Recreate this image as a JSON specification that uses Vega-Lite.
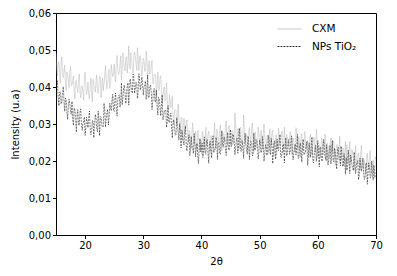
{
"$schema": "https://vega.github.io/schema/vega-lite/v6.json",
"width": 320, "height": 222,
"autosize": {"type": "none"},
"padding": {"left": 56, "top": 13, "right": 21, "bottom": 41},
"background": "white",
"config": {
  "font": "DejaVu Sans",
  "view": {"stroke": "black", "strokeWidth": 1},
  "axis": {"grid": false, "labelFontSize": 10, "titleFontSize": 10, "titleFontWeight": "normal", "labelColor": "black", "titleColor": "black", "domainColor": "black", "tickColor": "black", "tickSize": 3.5, "labelPadding": 2, "labelFont": "DejaVu Sans", "titleFont": "DejaVu Sans"},
  "legend": {"labelFont": "DejaVu Sans", "labelFontSize": 10.5, "labelColor": "black"}
},
"data": {"values": [
{"t":15,"c":0.0491,"n":0.0374},{"t":15.25,"c":0.0431,"n":0.0417},{"t":15.5,"c":0.0468,"n":0.0349},{"t":15.75,"c":0.0410,"n":0.0388},
{"t":16,"c":0.0482,"n":0.0360},{"t":16.25,"c":0.0425,"n":0.0401},{"t":16.5,"c":0.0459,"n":0.0334},{"t":16.75,"c":0.0390,"n":0.0363},
{"t":17,"c":0.0432,"n":0.0312},{"t":17.25,"c":0.0399,"n":0.0367},{"t":17.5,"c":0.0456,"n":0.0332},{"t":17.75,"c":0.0405,"n":0.0361},
{"t":18,"c":0.0430,"n":0.0296},{"t":18.25,"c":0.0367,"n":0.0338},{"t":18.5,"c":0.0418,"n":0.0278},{"t":18.75,"c":0.0385,"n":0.0339},
{"t":19,"c":0.0435,"n":0.0296},{"t":19.25,"c":0.0370,"n":0.0341},{"t":19.5,"c":0.0402,"n":0.0283},{"t":19.75,"c":0.0364,"n":0.0308},
{"t":20,"c":0.0440,"n":0.0269},{"t":20.25,"c":0.0380,"n":0.0318},{"t":20.5,"c":0.0414,"n":0.0290},{"t":20.75,"c":0.0368,"n":0.0335},
{"t":21,"c":0.0424,"n":0.0271},{"t":21.25,"c":0.0360,"n":0.0310},{"t":21.5,"c":0.0407,"n":0.0263},{"t":21.75,"c":0.0386,"n":0.0326},
{"t":22,"c":0.0433,"n":0.0288},{"t":22.25,"c":0.0383,"n":0.0335},{"t":22.5,"c":0.0429,"n":0.0268},{"t":22.75,"c":0.0370,"n":0.0318},
{"t":23,"c":0.0426,"n":0.0291},{"t":23.25,"c":0.0409,"n":0.0356},{"t":23.5,"c":0.0458,"n":0.0292},{"t":23.75,"c":0.0395,"n":0.0331},
{"t":24,"c":0.0436,"n":0.0297},{"t":24.25,"c":0.0396,"n":0.0356},{"t":24.5,"c":0.0461,"n":0.0336},{"t":24.75,"c":0.0428,"n":0.0380},
{"t":25,"c":0.0462,"n":0.0334},{"t":25.25,"c":0.0414,"n":0.0384},{"t":25.5,"c":0.0485,"n":0.0321},{"t":25.75,"c":0.0434,"n":0.0376},
{"t":26,"c":0.0461,"n":0.0345},{"t":26.25,"c":0.0418,"n":0.0411},{"t":26.5,"c":0.0492,"n":0.0371},{"t":26.75,"c":0.0451,"n":0.0405},
{"t":27,"c":0.0480,"n":0.0355},{"t":27.25,"c":0.0438,"n":0.0404},{"t":27.5,"c":0.0511,"n":0.0351},{"t":27.75,"c":0.0448,"n":0.0422},
{"t":28,"c":0.0473,"n":0.0389},{"t":28.25,"c":0.0436,"n":0.0435},{"t":28.5,"c":0.0495,"n":0.0383},{"t":28.75,"c":0.0460,"n":0.0413},
{"t":29,"c":0.0506,"n":0.0369},{"t":29.25,"c":0.0444,"n":0.0436},{"t":29.5,"c":0.0485,"n":0.0392},{"t":29.75,"c":0.0429,"n":0.0427},
{"t":30,"c":0.0477,"n":0.0378},{"t":30.25,"c":0.0442,"n":0.0405},{"t":30.5,"c":0.0497,"n":0.0366},{"t":30.75,"c":0.0423,"n":0.0432},
{"t":31,"c":0.0471,"n":0.0372},{"t":31.25,"c":0.0438,"n":0.0405},{"t":31.5,"c":0.0472,"n":0.0339},{"t":31.75,"c":0.0408,"n":0.0388},
{"t":32,"c":0.0433,"n":0.0361},{"t":32.25,"c":0.0377,"n":0.0392},{"t":32.5,"c":0.0440,"n":0.0324},{"t":32.75,"c":0.0392,"n":0.0369},
{"t":33,"c":0.0430,"n":0.0322},{"t":33.25,"c":0.0357,"n":0.0379},{"t":33.5,"c":0.0395,"n":0.0318},{"t":33.75,"c":0.0362,"n":0.0333},
{"t":34,"c":0.0411,"n":0.0291},{"t":34.25,"c":0.0336,"n":0.0350},{"t":34.5,"c":0.0378,"n":0.0304},{"t":34.75,"c":0.0344,"n":0.0330},
{"t":35,"c":0.0375,"n":0.0262},{"t":35.25,"c":0.0300,"n":0.0311},{"t":35.5,"c":0.0339,"n":0.0269},{"t":35.75,"c":0.0298,"n":0.0317},
{"t":36,"c":0.0354,"n":0.0277},{"t":36.25,"c":0.0293,"n":0.0301},{"t":36.5,"c":0.0318,"n":0.0235},{"t":36.75,"c":0.0256,"n":0.0275},
{"t":37,"c":0.0316,"n":0.0243},{"t":37.25,"c":0.0278,"n":0.0295},{"t":37.5,"c":0.0311,"n":0.0227},{"t":37.75,"c":0.0251,"n":0.0261},
{"t":38,"c":0.0279,"n":0.0214},{"t":38.25,"c":0.0233,"n":0.0266},{"t":38.5,"c":0.0303,"n":0.0232},{"t":38.75,"c":0.0245,"n":0.0274},
{"t":39,"c":0.0280,"n":0.0211},{"t":39.25,"c":0.0230,"n":0.0248},{"t":39.5,"c":0.0263,"n":0.0193},{"t":39.75,"c":0.0226,"n":0.0261},
{"t":40,"c":0.0218,"n":0.0235},{"t":40.25,"c":0.0272,"n":0.0209},{"t":40.5,"c":0.0230,"n":0.0265},{"t":40.75,"c":0.0291,"n":0.0218},
{"t":41,"c":0.0245,"n":0.0258},{"t":41.25,"c":0.0281,"n":0.0194},{"t":41.5,"c":0.0224,"n":0.0253},{"t":41.75,"c":0.0262,"n":0.0208},
{"t":42,"c":0.0239,"n":0.0268},{"t":42.25,"c":0.0304,"n":0.0233},{"t":42.5,"c":0.0235,"n":0.0264},{"t":42.75,"c":0.0279,"n":0.0204},
{"t":43,"c":0.0253,"n":0.0251},{"t":43.25,"c":0.0298,"n":0.0218},{"t":43.5,"c":0.0228,"n":0.0282},{"t":43.75,"c":0.0275,"n":0.0237},
{"t":44,"c":0.0253,"n":0.0260},{"t":44.25,"c":0.0308,"n":0.0215},{"t":44.5,"c":0.0243,"n":0.0277},{"t":44.75,"c":0.0296,"n":0.0229},
{"t":45,"c":0.0243,"n":0.0285},{"t":45.25,"c":0.0279,"n":0.0246},{"t":45.5,"c":0.0246,"n":0.0271},{"t":45.75,"c":0.0330,"n":0.0217},
{"t":46,"c":0.0257,"n":0.0256},{"t":46.25,"c":0.0287,"n":0.0221},{"t":46.5,"c":0.0232,"n":0.0289},{"t":46.75,"c":0.0291,"n":0.0227},
{"t":47,"c":0.0261,"n":0.0255},{"t":47.25,"c":0.0325,"n":0.0207},{"t":47.5,"c":0.0246,"n":0.0275},{"t":47.75,"c":0.0273,"n":0.0229},
{"t":48,"c":0.0226,"n":0.0267},{"t":48.25,"c":0.0290,"n":0.0204},{"t":48.5,"c":0.0252,"n":0.0253},{"t":48.75,"c":0.0303,"n":0.0214},
{"t":49,"c":0.0225,"n":0.0276},{"t":49.25,"c":0.0278,"n":0.0229},{"t":49.5,"c":0.0236,"n":0.0255},{"t":49.75,"c":0.0291,"n":0.0205},
{"t":50,"c":0.0256,"n":0.0257},{"t":50.25,"c":0.0283,"n":0.0222},{"t":50.5,"c":0.0232,"n":0.0266},{"t":50.75,"c":0.0300,"n":0.0199},
{"t":51,"c":0.0242,"n":0.0244},{"t":51.25,"c":0.0268,"n":0.0215},{"t":51.5,"c":0.0221,"n":0.0269},{"t":51.75,"c":0.0287,"n":0.0224},
{"t":52,"c":0.0242,"n":0.0261},{"t":52.25,"c":0.0283,"n":0.0193},{"t":52.5,"c":0.0214,"n":0.0250},{"t":52.75,"c":0.0263,"n":0.0205},
{"t":53,"c":0.0232,"n":0.0259},{"t":53.25,"c":0.0289,"n":0.0228},{"t":53.5,"c":0.0248,"n":0.0272},{"t":53.75,"c":0.0275,"n":0.0210},
{"t":54,"c":0.0222,"n":0.0245},{"t":54.25,"c":0.0292,"n":0.0195},{"t":54.5,"c":0.0234,"n":0.0263},{"t":54.75,"c":0.0264,"n":0.0217},
{"t":55,"c":0.0244,"n":0.0258},{"t":55.25,"c":0.0280,"n":0.0227},{"t":55.5,"c":0.0218,"n":0.0268},{"t":55.75,"c":0.0262,"n":0.0203},
{"t":56,"c":0.0224,"n":0.0239},{"t":56.25,"c":0.0290,"n":0.0217},{"t":56.5,"c":0.0244,"n":0.0272},{"t":56.75,"c":0.0265,"n":0.0208},
{"t":57,"c":0.0210,"n":0.0249},{"t":57.25,"c":0.0272,"n":0.0197},{"t":57.5,"c":0.0227,"n":0.0259},{"t":57.75,"c":0.0280,"n":0.0221},
{"t":58,"c":0.0233,"n":0.0243},{"t":58.25,"c":0.0254,"n":0.0188},{"t":58.5,"c":0.0209,"n":0.0249},{"t":58.75,"c":0.0273,"n":0.0210},
{"t":59,"c":0.0216,"n":0.0265},{"t":59.25,"c":0.0261,"n":0.0195},{"t":59.5,"c":0.0227,"n":0.0230},{"t":59.75,"c":0.0286,"n":0.0199},
{"t":60,"c":0.0210,"n":0.0255},{"t":60.25,"c":0.0244,"n":0.0184},{"t":60.5,"c":0.0209,"n":0.0238},{"t":60.75,"c":0.0257,"n":0.0199},
{"t":61,"c":0.0218,"n":0.0258},{"t":61.25,"c":0.0273,"n":0.0213},{"t":61.5,"c":0.0199,"n":0.0244},{"t":61.75,"c":0.0242,"n":0.0189},
{"t":62,"c":0.0208,"n":0.0231},{"t":62.25,"c":0.0262,"n":0.0192},{"t":62.5,"c":0.0223,"n":0.0256},{"t":62.75,"c":0.0254,"n":0.0198},
{"t":63,"c":0.0188,"n":0.0224},{"t":63.25,"c":0.0244,"n":0.0178},{"t":63.5,"c":0.0213,"n":0.0237},{"t":63.75,"c":0.0267,"n":0.0207},
{"t":64,"c":0.0202,"n":0.0240},{"t":64.25,"c":0.0235,"n":0.0185},{"t":64.5,"c":0.0186,"n":0.0220},{"t":64.75,"c":0.0253,"n":0.0164},
{"t":65,"c":0.0244,"n":0.0175},{"t":65.25,"c":0.0193,"n":0.0229},{"t":65.5,"c":0.0253,"n":0.0166},{"t":65.75,"c":0.0197,"n":0.0208},
{"t":66,"c":0.0219,"n":0.0179},{"t":66.25,"c":0.0175,"n":0.0224},{"t":66.5,"c":0.0242,"n":0.0166},{"t":66.75,"c":0.0194,"n":0.0196},
{"t":67,"c":0.0222,"n":0.0149},{"t":67.25,"c":0.0176,"n":0.0208},{"t":67.5,"c":0.0242,"n":0.0172},{"t":67.75,"c":0.0180,"n":0.0208},
{"t":68,"c":0.0203,"n":0.0150},{"t":68.25,"c":0.0166,"n":0.0195},{"t":68.5,"c":0.0221,"n":0.0137},{"t":68.75,"c":0.0180,"n":0.0195},
{"t":69,"c":0.0229,"n":0.0155},{"t":69.25,"c":0.0166,"n":0.0200},{"t":69.5,"c":0.0203,"n":0.0148},{"t":69.75,"c":0.0153,"n":0.0175},
{"t":70,"c":0.0205,"n":0.0153},
{"t":15.125,"c":0.0450,"n":0.0402},{"t":15.375,"c":0.0465,"n":0.0372},{"t":15.625,"c":0.0433,"n":0.0386},{"t":15.875,"c":0.0463,"n":0.0354},
{"t":16.125,"c":0.0433,"n":0.0385},{"t":16.375,"c":0.0444,"n":0.0359},{"t":16.625,"c":0.0413,"n":0.0370},{"t":16.875,"c":0.0441,"n":0.0331},
{"t":17.125,"c":0.0420,"n":0.0350},{"t":17.375,"c":0.0442,"n":0.0356},{"t":17.625,"c":0.0404,"n":0.0326},{"t":17.875,"c":0.0418,"n":0.0312},
{"t":18.125,"c":0.0389,"n":0.0343},{"t":18.375,"c":0.0417,"n":0.0314},{"t":18.625,"c":0.0397,"n":0.0327},{"t":18.875,"c":0.0419,"n":0.0299},
{"t":19.125,"c":0.0386,"n":0.0333},{"t":19.375,"c":0.0402,"n":0.0299},{"t":19.625,"c":0.0387,"n":0.0301},{"t":19.875,"c":0.0421,"n":0.0319},
{"t":20.125,"c":0.0410,"n":0.0288},{"t":20.375,"c":0.0389,"n":0.0306},{"t":20.625,"c":0.0376,"n":0.0318},{"t":20.875,"c":0.0403,"n":0.0291},
{"t":21.125,"c":0.0385,"n":0.0279},{"t":21.375,"c":0.0421,"n":0.0306},{"t":21.625,"c":0.0395,"n":0.0297},{"t":21.875,"c":0.0413,"n":0.0316},
{"t":22.125,"c":0.0386,"n":0.0279},{"t":22.375,"c":0.0409,"n":0.0308},{"t":22.625,"c":0.0425,"n":0.0320},{"t":22.875,"c":0.0400,"n":0.0299},
{"t":23.125,"c":0.0390,"n":0.0293},{"t":23.375,"c":0.0427,"n":0.0337},{"t":23.625,"c":0.0422,"n":0.0316},{"t":23.875,"c":0.0410,"n":0.0340},
{"t":24.125,"c":0.0448,"n":0.0318},{"t":24.375,"c":0.0414,"n":0.0343},{"t":24.625,"c":0.0442,"n":0.0365},{"t":24.875,"c":0.0436,"n":0.0337},
{"t":25.125,"c":0.0430,"n":0.0367},{"t":25.375,"c":0.0465,"n":0.0338},{"t":25.625,"c":0.0444,"n":0.0366},{"t":25.875,"c":0.0439,"n":0.0379},
{"t":26.125,"c":0.0484,"n":0.0363},{"t":26.375,"c":0.0450,"n":0.0352},{"t":26.625,"c":0.0466,"n":0.0398},{"t":26.875,"c":0.0443,"n":0.0382},
{"t":27.125,"c":0.0482,"n":0.0374},{"t":27.375,"c":0.0464,"n":0.0411},{"t":27.625,"c":0.0458,"n":0.0389},{"t":27.875,"c":0.0493,"n":0.0406},
{"t":28.125,"c":0.0452,"n":0.0383},{"t":28.375,"c":0.0478,"n":0.0427},{"t":28.625,"c":0.0482,"n":0.0394},{"t":28.875,"c":0.0445,"n":0.0407},
{"t":29.125,"c":0.0475,"n":0.0389},{"t":29.375,"c":0.0483,"n":0.0418},{"t":29.625,"c":0.0459,"n":0.0401},{"t":29.875,"c":0.0450,"n":0.0414},
{"t":30.125,"c":0.0472,"n":0.0398},{"t":30.375,"c":0.0443,"n":0.0416},{"t":30.625,"c":0.0478,"n":0.0385},{"t":30.875,"c":0.0448,"n":0.0371},
{"t":31.125,"c":0.0434,"n":0.0401},{"t":31.375,"c":0.0457,"n":0.0385},{"t":31.625,"c":0.0411,"n":0.0359},{"t":31.875,"c":0.0435,"n":0.0396},
{"t":32.125,"c":0.0433,"n":0.0359},{"t":32.375,"c":0.0410,"n":0.0347},{"t":32.625,"c":0.0391,"n":0.0372},{"t":32.875,"c":0.0429,"n":0.0345},
{"t":33.125,"c":0.0395,"n":0.0351},{"t":33.375,"c":0.0374,"n":0.0311},{"t":33.625,"c":0.0400,"n":0.0336},{"t":33.875,"c":0.0365,"n":0.0337},
{"t":34.125,"c":0.0370,"n":0.0306},{"t":34.375,"c":0.0339,"n":0.0306},{"t":34.625,"c":0.0365,"n":0.0327},{"t":34.875,"c":0.0350,"n":0.0288},
{"t":35.125,"c":0.0317,"n":0.0306},{"t":35.375,"c":0.0333,"n":0.0290},{"t":35.625,"c":0.0337,"n":0.0271},{"t":35.875,"c":0.0303,"n":0.0295},
{"t":36.125,"c":0.0316,"n":0.0256},{"t":36.375,"c":0.0280,"n":0.0278},{"t":36.625,"c":0.0317,"n":0.0283},{"t":36.875,"c":0.0292,"n":0.0254},
{"t":37.125,"c":0.0274,"n":0.0278},{"t":37.375,"c":0.0304,"n":0.0242},{"t":37.625,"c":0.0271,"n":0.0247},{"t":37.875,"c":0.0283,"n":0.0271},
{"t":38.125,"c":0.0243,"n":0.0230},{"t":38.375,"c":0.0282,"n":0.0243},{"t":38.625,"c":0.0260,"n":0.0220},{"t":38.875,"c":0.0271,"n":0.0247},
{"t":39.125,"c":0.0243,"n":0.0242},{"t":39.375,"c":0.0283,"n":0.0213},{"t":39.625,"c":0.0245,"n":0.0243},{"t":39.875,"c":0.0257,"n":0.0225},
{"t":40.125,"c":0.0280,"n":0.0249},{"t":40.375,"c":0.0245,"n":0.0229},{"t":40.625,"c":0.0258,"n":0.0224},{"t":40.875,"c":0.0241,"n":0.0257},
{"t":41.125,"c":0.0273,"n":0.0221},{"t":41.375,"c":0.0250,"n":0.0246},{"t":41.625,"c":0.0269,"n":0.0231},{"t":41.875,"c":0.0240,"n":0.0258},
{"t":42.125,"c":0.0267,"n":0.0223},{"t":42.375,"c":0.0250,"n":0.0231},{"t":42.625,"c":0.0286,"n":0.0257},{"t":42.875,"c":0.0262,"n":0.0246},
{"t":43.125,"c":0.0280,"n":0.0222},{"t":43.375,"c":0.0249,"n":0.0257},{"t":43.625,"c":0.0278,"n":0.0243},{"t":43.875,"c":0.0265,"n":0.0265},
{"t":44.125,"c":0.0291,"n":0.0230},{"t":44.375,"c":0.0257,"n":0.0255},{"t":44.625,"c":0.0286,"n":0.0236},{"t":44.875,"c":0.0267,"n":0.0260},
{"t":45.125,"c":0.0273,"n":0.0239},{"t":45.375,"c":0.0282,"n":0.0272},{"t":45.625,"c":0.0258,"n":0.0255},{"t":45.875,"c":0.0296,"n":0.0235},
{"t":46.125,"c":0.0262,"n":0.0262},{"t":46.375,"c":0.0276,"n":0.0242},{"t":46.625,"c":0.0283,"n":0.0266},{"t":46.875,"c":0.0249,"n":0.0226},
{"t":47.125,"c":0.0261,"n":0.0235},{"t":47.375,"c":0.0287,"n":0.0257},{"t":47.625,"c":0.0272,"n":0.0246},{"t":47.875,"c":0.0250,"n":0.0218},
{"t":48.125,"c":0.0278,"n":0.0256},{"t":48.375,"c":0.0260,"n":0.0237},{"t":48.625,"c":0.0286,"n":0.0248},{"t":48.875,"c":0.0250,"n":0.0221},
{"t":49.125,"c":0.0268,"n":0.0232},{"t":49.375,"c":0.0241,"n":0.0258},{"t":49.625,"c":0.0254,"n":0.0243},{"t":49.875,"c":0.0275,"n":0.0224},
{"t":50.125,"c":0.0244,"n":0.0244},{"t":50.375,"c":0.0252,"n":0.0231},{"t":50.625,"c":0.0273,"n":0.0248},{"t":50.875,"c":0.0264,"n":0.0219},
{"t":51.125,"c":0.0233,"n":0.0237},{"t":51.375,"c":0.0270,"n":0.0225},{"t":51.625,"c":0.0265,"n":0.0260},{"t":51.875,"c":0.0239,"n":0.0217},
{"t":52.125,"c":0.0279,"n":0.0243},{"t":52.375,"c":0.0245,"n":0.0229},{"t":52.625,"c":0.0253,"n":0.0255},{"t":52.875,"c":0.0271,"n":0.0222},
{"t":53.125,"c":0.0234,"n":0.0234},{"t":53.375,"c":0.0259,"n":0.0253},{"t":53.625,"c":0.0245,"n":0.0211},{"t":53.875,"c":0.0281,"n":0.0226},
{"t":54.125,"c":0.0239,"n":0.0245},{"t":54.375,"c":0.0247,"n":0.0237},{"t":54.625,"c":0.0272,"n":0.0214},{"t":54.875,"c":0.0240,"n":0.0247},
{"t":55.125,"c":0.0258,"n":0.0218},{"t":55.375,"c":0.0265,"n":0.0252},{"t":55.625,"c":0.0231,"n":0.0226},{"t":55.875,"c":0.0254,"n":0.0220},
{"t":56.125,"c":0.0241,"n":0.0246},{"t":56.375,"c":0.0268,"n":0.0238},{"t":56.625,"c":0.0234,"n":0.0207},{"t":56.875,"c":0.0247,"n":0.0240},
{"t":57.125,"c":0.0274,"n":0.0228},{"t":57.375,"c":0.0229,"n":0.0248},{"t":57.625,"c":0.0241,"n":0.0217},{"t":57.875,"c":0.0258,"n":0.0222},
{"t":58.125,"c":0.0253,"n":0.0253},{"t":58.375,"c":0.0221,"n":0.0210},{"t":58.625,"c":0.0261,"n":0.0231},{"t":58.875,"c":0.0231,"n":0.0241},
{"t":59.125,"c":0.0239,"n":0.0206},{"t":59.375,"c":0.0264,"n":0.0216},{"t":59.625,"c":0.0225,"n":0.0242},{"t":59.875,"c":0.0250,"n":0.0221},
{"t":60.125,"c":0.0241,"n":0.0219},{"t":60.375,"c":0.0227,"n":0.0235},{"t":60.625,"c":0.0262,"n":0.0203},{"t":60.875,"c":0.0220,"n":0.0230},
{"t":61.125,"c":0.0245,"n":0.0232},{"t":61.375,"c":0.0231,"n":0.0202},{"t":61.625,"c":0.0249,"n":0.0222},{"t":61.875,"c":0.0207,"n":0.0206},
{"t":62.125,"c":0.0242,"n":0.0243},{"t":62.375,"c":0.0224,"n":0.0214},{"t":62.625,"c":0.0251,"n":0.0203},{"t":62.875,"c":0.0214,"n":0.0235},
{"t":63.125,"c":0.0226,"n":0.0205},{"t":63.375,"c":0.0245,"n":0.0227},{"t":63.625,"c":0.0202,"n":0.0216},{"t":63.875,"c":0.0231,"n":0.0187},
{"t":64.125,"c":0.0211,"n":0.0219},{"t":64.375,"c":0.0236,"n":0.0188},{"t":64.625,"c":0.0223,"n":0.0200},{"t":64.875,"c":0.0198,"n":0.0209},
{"t":65.125,"c":0.0207,"n":0.0187},{"t":65.375,"c":0.0226,"n":0.0204},{"t":65.625,"c":0.0197,"n":0.0216},{"t":65.875,"c":0.0231,"n":0.0188},
{"t":66.125,"c":0.0204,"n":0.0174},{"t":66.375,"c":0.0216,"n":0.0198},{"t":66.625,"c":0.0188,"n":0.0185},{"t":66.875,"c":0.0218,"n":0.0201},
{"t":67.125,"c":0.0199,"n":0.0160},{"t":67.375,"c":0.0223,"n":0.0185},{"t":67.625,"c":0.0187,"n":0.0193},{"t":67.875,"c":0.0204,"n":0.0168},
{"t":68.125,"c":0.0176,"n":0.0156},{"t":68.375,"c":0.0205,"n":0.0194},{"t":68.625,"c":0.0186,"n":0.0166},{"t":68.875,"c":0.0209,"n":0.0184},
{"t":69.125,"c":0.0176,"n":0.0155},{"t":69.375,"c":0.0192,"n":0.0174},{"t":69.625,"c":0.0177,"n":0.0189},{"t":69.875,"c":0.0211,"n":0.0155}
]},
"transform": [{"fold": ["c", "n"], "as": ["s", "v"]}],
"mark": {"type": "line", "strokeWidth": 0.5, "clip": true},
"encoding": {
  "x": {"field": "t", "type": "quantitative", "scale": {"domain": [15, 70], "nice": false, "zero": false},
        "axis": {"values": [20, 30, 40, 50, 60, 70], "title": "2θ", "titlePadding": 6, "labelFlush": false}},
  "y": {"field": "v", "type": "quantitative", "scale": {"domain": [0, 0.06], "nice": false},
        "axis": {"values": [0, 0.01, 0.02, 0.03, 0.04, 0.05, 0.06], "labelExpr": "replace(format(datum.value, '.2f'), '.', ',')", "title": "Intensity (u.a)", "titlePadding": 8}},
  "color": {"field": "s", "type": "nominal", "scale": {"domain": ["c", "n"], "range": ["#b0b0b0", "#000000"]},
            "legend": {"title": null, "orient": "none", "legendX": 221, "legendY": 8, "symbolType": "stroke", "symbolSize": 576, "symbolStrokeWidth": 0.8, "clipHeight": 16, "rowPadding": 1.5, "labelOffset": 10, "labelExpr": "datum.value == 'c' ? 'CXM' : '\u2002NPs TiO₂'"}},
  "strokeDash": {"field": "s", "type": "nominal", "scale": {"domain": ["c", "n"], "range": [[1, 0], [2, 1]]},
            "legend": {"title": null, "orient": "none", "legendX": 221, "legendY": 8, "symbolType": "stroke", "symbolSize": 576, "symbolStrokeWidth": 0.8, "clipHeight": 16, "rowPadding": 1.5, "labelOffset": 10, "labelExpr": "datum.value == 'c' ? 'CXM' : '\u2002NPs TiO₂'"}}
}
}
